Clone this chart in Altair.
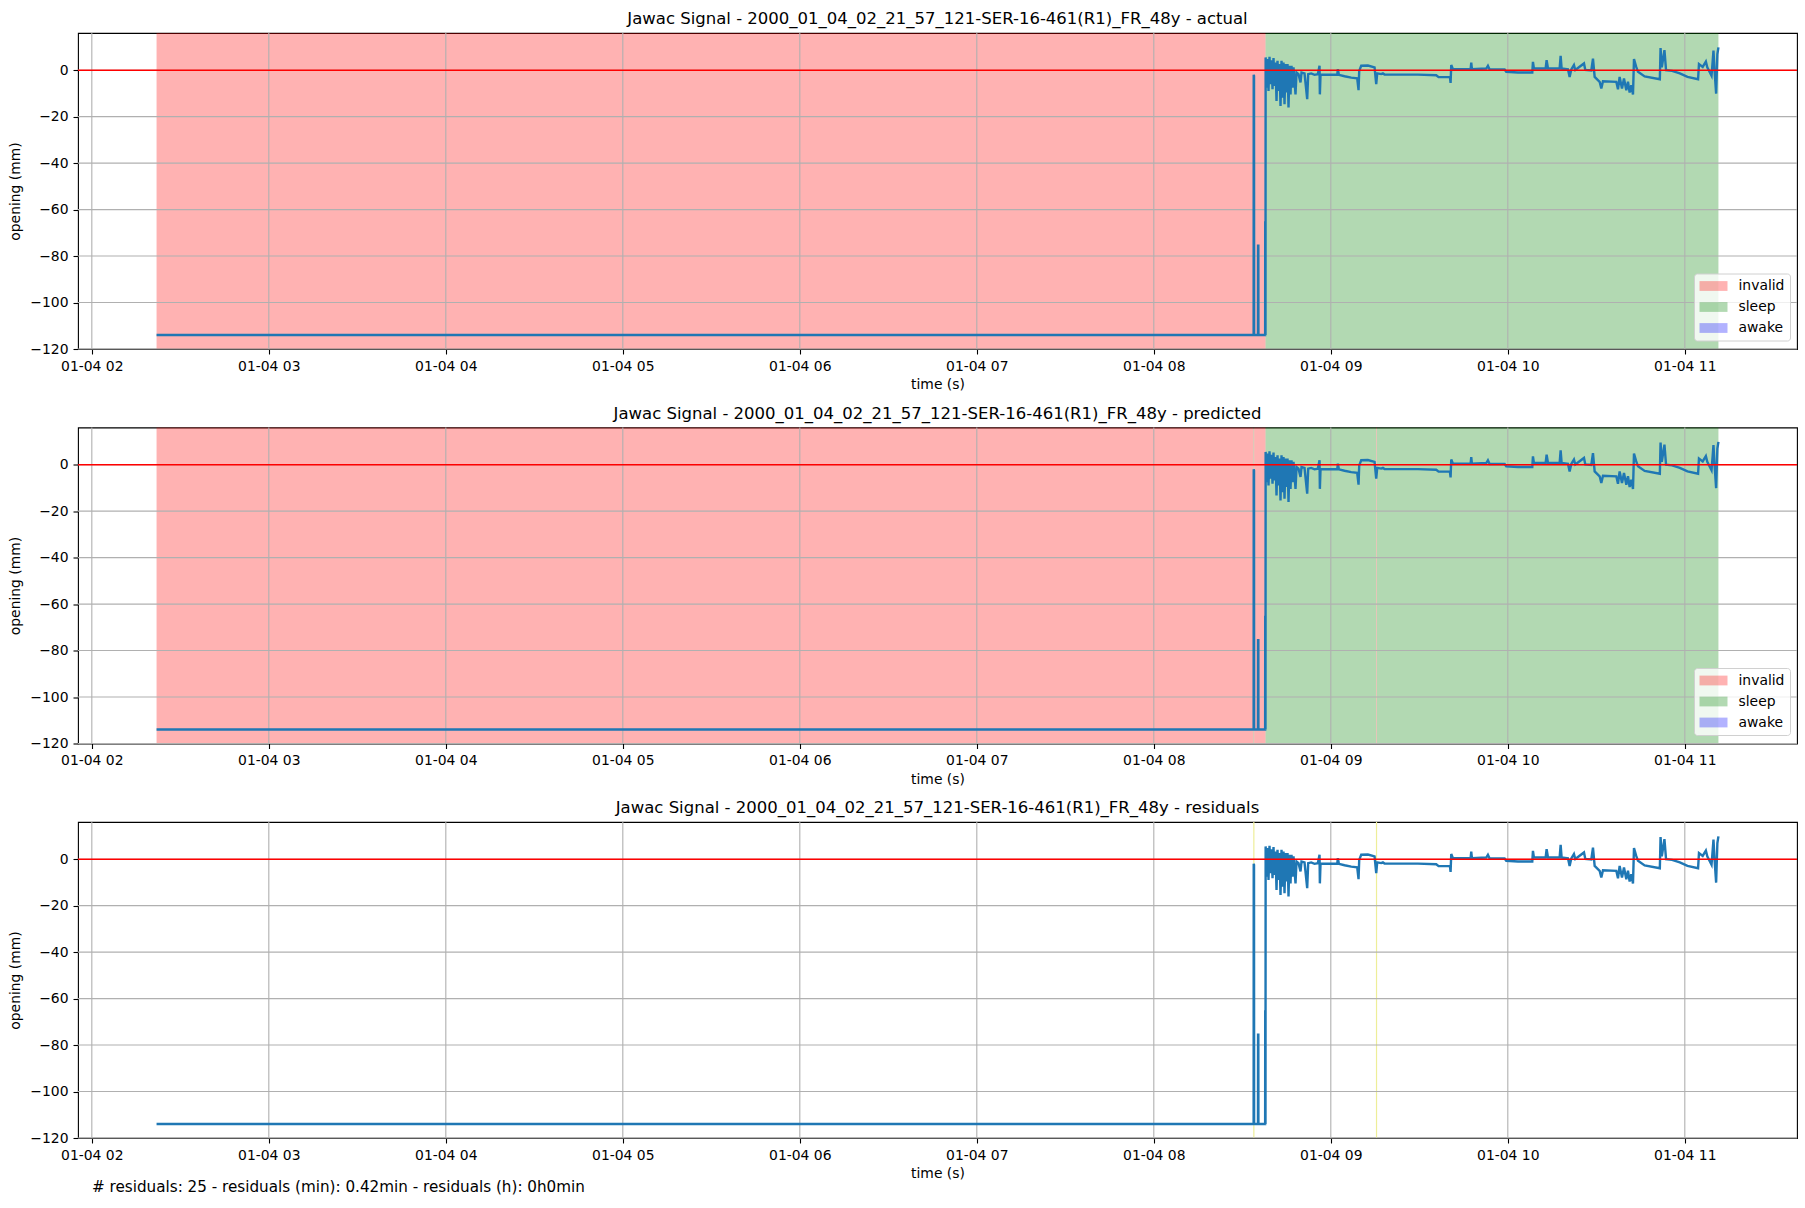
import altair as alt
import pandas as pd

# ---------------- data ----------------
TITLE_BASE = "Jawac Signal - 2000_01_04_02_21_57_121-SER-16-461(R1)_FR_48y"
PANEL_NAMES = ["actual", "predicted", "residuals"]
DAY = "2000-01-04"

X_DOMAIN_H = [1.922, 11.634]
X_TICK_H = [2, 3, 4, 5, 6, 7, 8, 9, 10, 11]
Y_TICKS = [-120, -100, -80, -60, -40, -20, 0]
Y_DOMAIN = [-120, 16]

# signal: clock time (decimal hours) and opening (mm)
SIGNAL_H = [
    2.3658, 8.5640, 8.5645, 8.5662, 8.5667, 8.5885, 8.5890, 8.5905, 8.5910,
    8.6290, 8.6295, 8.6300, 8.6310, 8.6318,
    8.6386, 8.6443, 8.6480, 8.6537, 8.6594, 8.6650, 8.6707, 8.6763, 8.6820,
    8.6876, 8.6933, 8.6989, 8.7046, 8.7102, 8.7159, 8.7215, 8.7272, 8.7328,
    8.7385, 8.7441, 8.7498, 8.7554, 8.7611, 8.7667, 8.7724, 8.7780, 8.7837,
    8.7893, 8.7950, 8.8006, 8.8063, 8.8176, 8.8289, 8.8346, 8.8515, 8.8666,
    8.8722, 8.8892, 8.9080, 8.9269, 8.9363, 8.9382, 8.9419, 8.9834, 9.0362,
    9.0399, 9.0456, 9.0776, 9.1153, 9.1492, 9.1567, 9.1605, 9.1718, 9.2095,
    9.2472, 9.2566, 9.2622, 9.2848,
    9.2943, 9.3037, 9.4921, 9.5957, 9.6089, 9.6730, 9.6767, 9.6805, 9.6899,
    9.7898, 9.7935, 9.7973, 9.8783, 9.8877, 9.8972, 9.9819, 9.9913, 10.0573,
    10.1383, 10.1421, 10.1477, 10.2137, 10.2193, 10.2269, 10.2928, 10.2985,
    10.3041, 10.3399, 10.3493, 10.3587, 10.3738, 10.3814, 10.4304, 10.4379,
    10.4718, 10.4812, 10.4907, 10.5189, 10.5283, 10.5377, 10.6131, 10.6225,
    10.6319, 10.6451, 10.6564, 10.6696, 10.6790, 10.6884, 10.6978, 10.7073,
    10.7129, 10.7250, 10.7355, 10.7732, 10.8590, 10.8630, 10.8700, 10.8850,
    10.8940, 10.9280, 10.9720, 11.0150, 11.0750, 11.0800, 11.1010, 11.1190,
    11.1270, 11.1510, 11.1580, 11.1620, 11.1680, 11.1770, 11.1840, 11.1900,
]
SIGNAL_MM = [
    -114.0, -114.0, -2.0, -2.5, -114.0, -114.0, -75.5, -75.5, -114.0,
    -114.0, -65.0, -113.5, -114.0, 5.5,
    -7.5, 4.8, -8.9, 5.8, -6.0, 4.3, -8.2, 5.2, -6.8,
    3.3, -13.2, 4.0, -8.9, 2.6, -15.4, 4.0, -11.8, 3.3,
    -14.7, 2.6, -9.6, 2.6, -16.1, 1.9, -10.4, 1.9, -7.5,
    1.2, -4.6, -10.4, -1.0, -1.7, -5.3, -1.0, -1.4, -12.5,
    -1.7, -1.4, -2.0, -1.7, 1.9, -10.4, -2.0, -2.0, -2.0,
    0.4, -2.0, -2.6, -3.2, -3.5, -8.6, -0.3, 1.9, 2.0,
    1.2, -6.0, -1.4, -1.7,
    -1.4, -1.9, -1.9, -2.2, -3.0, -3.0, -5.5, 2.2, 0.4,
    0.4, 3.3, 0.4, 0.7, 1.9, 0.3, 0.3, -0.7, -1.0,
    -1.0, 3.6, 0.7, 0.7, 4.3, 0.7, 0.7, 6.2,
    0.7, 0.4, -2.9, 0.3, 2.2, 0.1, 2.9, 0.1,
    -0.1, 5.0, -2.9, -5.0, -7.9, -4.8, -5.0, -8.2,
    -2.9, -7.9, -3.6, -8.6, -5.0, -9.6, -6.5, -10.5,
    4.8, 1.5, -0.7, -2.7, -3.9, 9.5, 1.2, 8.6,
    0.0, -0.3, -1.4, -2.9, -3.9, 2.6, 1.4, 3.7,
    1.2, -2.4, 4.3, 8.4, 0.0, -10.1, 6.9, 9.8,
]

# label segments (decimal hours)
ACTUAL_START = [2.3658, 8.6313]
ACTUAL_END = [8.6313, 11.1900]
ACTUAL_LABEL = ["invalid", "sleep"]

PRED_START = [2.3658, 8.5635, 8.5670, 8.6313, 9.2565, 9.2600]
PRED_END = [8.5635, 8.5670, 8.6313, 9.2565, 9.2600, 11.1900]
PRED_LABEL = ["invalid", "sleep", "invalid", "sleep", "invalid", "sleep"]

RESID_H = [8.5652, 9.2583]

LABELS = ["invalid", "sleep", "awake"]
LABEL_COLORS = ["red", "green", "blue"]

NOTE = "# residuals: 25 - residuals (min): 0.42min - residuals (h): 0h0min"

# ---------------- helpers ----------------
BASE = pd.Timestamp(DAY)


def ts(h):
    return (BASE + pd.to_timedelta(h, unit="h")).strftime("%Y-%m-%dT%H:%M:%S.%f")[:-3]


def dt(h):
    s = int(round(h * 3600))
    return alt.DateTime(year=2000, month=1, date=4, hours=s // 3600,
                        minutes=(s % 3600) // 60, seconds=s % 60)


FONT = "DejaVu Sans"
W, H = 1719, 316

x_scale = alt.Scale(domain=[dt(X_DOMAIN_H[0]), dt(X_DOMAIN_H[1])], nice=False)
y_scale = alt.Scale(domain=Y_DOMAIN, nice=False, zero=False)

x_axis = alt.Axis(values=[dt(h) for h in X_TICK_H], format="%m-%d %H",
                  labelFontSize=13.9, titleFontSize=13.9, titleFontWeight="normal",
                  tickSize=5, labelPadding=5, titlePadding=5, grid=False,
                  domain=False, tickColor="black", labelColor="black",
                  titleColor="black", labelFlush=False, labelOverlap=False,
                  tickWidth=1.1)
y_axis = alt.Axis(values=Y_TICKS, labelFontSize=13.9, titleFontSize=13.9,
                  titleFontWeight="normal", tickSize=5, labelPadding=5,
                  titlePadding=7, grid=False, domain=False, tickColor="black",
                  labelColor="black", titleColor="black", labelFlush=False,
                  tickWidth=1.1)


def X(field):
    return alt.X(field, type="temporal", scale=x_scale, axis=x_axis, title="time (s)")


def Y(field):
    return alt.Y(field, type="quantitative", scale=y_scale, axis=y_axis,
                 title="opening (mm)")


signal_df = pd.DataFrame({
    "t": [ts(h) for h in SIGNAL_H],
    "v": SIGNAL_MM,
    "i": list(range(len(SIGNAL_H))),
})
vgrid_df = pd.DataFrame({"t": [ts(h) for h in X_TICK_H]})
hgrid_df = pd.DataFrame({"v": Y_TICKS})
zero_df = pd.DataFrame({"v": [0]})
resid_df = pd.DataFrame({"t": [ts(h) for h in RESID_H]})
note_df = pd.DataFrame({"note": [NOTE]})

legend = alt.Legend(
    title=None, orient="none", legendX=1616, legendY=240.5,
    symbolType="M-1,-0.7L3,-0.7L3,0.7L-1,0.7Z", symbolSize=196,
    symbolOpacity=0.3, symbolStrokeWidth=0, labelFontSize=13.9,
    labelFont=FONT, labelColor="black", labelOffset=25, rowPadding=7,
    padding=5.5, fillColor="rgba(255,255,255,0.8)", strokeColor="#d0d0d0",
    cornerRadius=3)


def spans_layer(starts, ends, labels):
    df = pd.DataFrame({
        "t": [ts(h) for h in starts],
        "t2": [ts(h) for h in ends],
        "label": labels,
    })
    return alt.Chart(df).mark_rect(opacity=0.3, strokeWidth=0).encode(
        x=X("t"), x2="t2:T",
        color=alt.Color("label:N", scale=alt.Scale(domain=LABELS, range=LABEL_COLORS),
                        legend=legend),
    )


def common_layers():
    vgrid = alt.Chart(vgrid_df).mark_rule(color="#b0b0b0", strokeWidth=1.1).encode(x=X("t"))
    hgrid = alt.Chart(hgrid_df).mark_rule(color="#b0b0b0", strokeWidth=1.1).encode(y=Y("v"))
    line = alt.Chart(signal_df).mark_line(color="#1f77b4", strokeWidth=2.4).encode(
        x=X("t"), y=Y("v"), order="i:Q")
    zero = alt.Chart(zero_df).mark_rule(color="red", strokeWidth=1.4).encode(y=Y("v"))
    return [vgrid, hgrid, line, zero]


def title(name):
    return alt.TitleParams(f"{TITLE_BASE} - {name}", fontSize=16.5, fontWeight="normal",
                           font=FONT, offset=4.5, anchor="middle", color="black")


p1 = alt.layer(spans_layer(ACTUAL_START, ACTUAL_END, ACTUAL_LABEL), *common_layers()
               ).properties(width=W, height=H, title=title(PANEL_NAMES[0]))
p2 = alt.layer(spans_layer(PRED_START, PRED_END, PRED_LABEL), *common_layers()
               ).properties(width=W, height=H, title=title(PANEL_NAMES[1]))

resid = alt.Chart(resid_df).mark_rule(color="#eeee99", strokeWidth=1.2).encode(x=X("t"))
note = alt.Chart(note_df).mark_text(align="left", baseline="middle", fontSize=15.2,
                                    font=FONT, color="black").encode(
    text="note:N", x=alt.value(14), y=alt.value(365))
p3 = alt.layer(resid, *common_layers(), note
               ).properties(width=W, height=H, title=title(PANEL_NAMES[2]))

chart = alt.vconcat(p1, p2, p3, spacing=11.5).resolve_scale(color="independent").configure(
    font=FONT, padding={"left": 8, "top": 10, "right": 5, "bottom": 5},
    background="white",
).configure_view(stroke="black", strokeWidth=1.1)

chart.save("out.html", embed_options={"renderer": "svg", "actions": False})
